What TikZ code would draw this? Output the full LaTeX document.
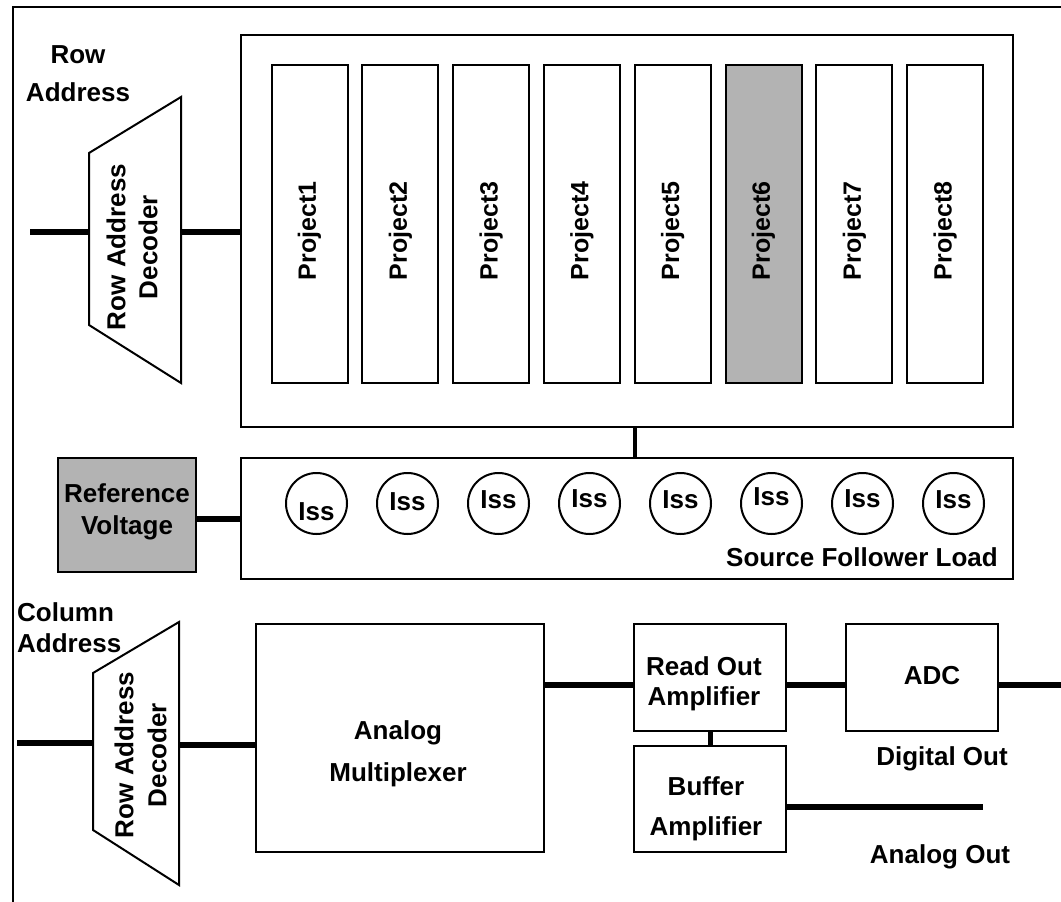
\documentclass[tikz,border=0pt]{standalone}
\usepackage{fontspec}
\setmainfont{Liberation Sans}
\definecolor{boxgray}{RGB}{179,179,179}
\begin{document}
\begin{tikzpicture}[x=1pt,y=-1pt,
  blk/.style={draw=black,line width=2pt,inner sep=0pt},
  wire/.style={line width=6pt},
  midwire/.style={line width=4.5pt},
  lbl/.style={font=\bfseries\fontsize{26}{32}\selectfont,align=center,inner sep=0pt},
  plbl/.style={font=\bfseries\fontsize{25}{30}\selectfont,inner sep=0pt,rotate=90},
  circ/.style={draw=black,line width=2pt,circle,minimum size=61pt,inner sep=0pt}
]
\useasboundingbox (0,0) rectangle (1061,902);
% outer frame (cropped)
\draw[line width=2.5pt] (13,902) -- (13,7) -- (1061,7);

% top labels
\node[lbl,font=\bfseries\fontsize{26}{38}\selectfont] (rowaddr) at (78,74) {Row\\Address};

% top decoder
\draw[blk] (89,153) -- (181,97) -- (181,383) -- (89,325) -- cycle;
\node[lbl,rotate=90] (dec1) at (132,247) {Row Address\\Decoder};
\coordinate (d1w) at (89,232);
\coordinate (d1e) at (181,232);
\coordinate (in1) at (30,232);

% pixel array
\node[blk,minimum width=772pt,minimum height=392pt] (array) at (627,231) {};
\foreach \i in {1,...,8}{
  \pgfmathsetmacro{\cx}{309.5+90.8*(\i-1)}
  \ifnum\i=6
    \node[blk,fill=boxgray,minimum width=76pt,minimum height=318pt] (p\i) at (\cx,224) {};
  \else
    \node[blk,minimum width=76pt,minimum height=318pt] (p\i) at (\cx,224) {};
  \fi
  \node[plbl] (pl\i) at (\cx,231) {Project\i};
}

% source follower load
\node[blk,minimum width=772pt,minimum height=121pt] (sf) at (627,518.5) {};
\foreach \i/\dy in {1/8,2/-2,3/-3.5,4/-5,5/-3.5,6/-7,7/-5,8/-3.5}{
  \pgfmathsetmacro{\cx}{316.5+91*(\i-1)}
  \node[circ] (c\i) at (\cx,503.5) {};
  \node[lbl] (ct\i) at (\cx,503.5+\dy) {Iss};
}
\node[lbl,anchor=east] (sfl) at (998,557) {Source Follower Load};

% reference voltage
\node[blk,fill=boxgray,minimum width=138pt,minimum height=114pt] (rv) at (127,515) {};
\node[lbl] (rvt) at (127,512) {Reference\\Voltage};
\coordinate (rvo) at (196,519);

% column address
\node[lbl,align=left,anchor=west,font=\bfseries\fontsize{26}{31}\selectfont] (coladdr) at (17,627.5) {Column\\Address};

% bottom decoder
\draw[blk] (93,673) -- (179,622) -- (179,885) -- (93,830) -- cycle;
\node[lbl,rotate=90,font=\bfseries\fontsize{26}{33}\selectfont] (dec2) at (140.5,755) {Row Address\\Decoder};
\coordinate (in2) at (17,743);
\coordinate (d2w) at (93,743);
\coordinate (d2e) at (179,745);

% analog multiplexer
\node[blk,minimum width=288pt,minimum height=228pt] (mux) at (400,738) {};
\node[lbl,font=\bfseries\fontsize{26}{42}\selectfont] (muxt) at (398,754) {Analog\\Multiplexer};

% read out amplifier
\node[blk,minimum width=152pt,minimum height=107pt] (roa) at (710,677.5) {};
\node[lbl,font=\bfseries\fontsize{26}{30}\selectfont] (roat) at (704,684) {Read Out\\Amplifier};

% buffer amplifier
\node[blk,minimum width=152pt,minimum height=106pt] (buf) at (710,799) {};
\node[lbl,font=\bfseries\fontsize{26}{40}\selectfont] (buft) at (706,809) {Buffer\\Amplifier};

% ADC
\node[blk,minimum width=152pt,minimum height=107pt] (adc) at (922,677.5) {};
\node[lbl] (adct) at (932,676) {ADC};

\node[lbl] (dout) at (942,759) {Digital Out};
\node[lbl] (aout) at (940,857) {Analog Out};

\coordinate (mo) at (544,685);
\coordinate (ro) at (786,685);
\coordinate (ao) at (998,685);
\coordinate (aend) at (1061,685);
\coordinate (bo) at (786,807);
\coordinate (bend) at (983,807);

% connectors
\draw[wire] (in1) -- (d1w);
\draw[wire] (d1e) -- (d1e -| array.west);
\draw[midwire] ([xshift=8pt]array.south) -- ([xshift=8pt]sf.north);
\draw[wire] (rvo) -- (rvo -| sf.west);
\draw[wire] (in2) -- (d2w);
\draw[wire] (d2e) -- (d2e -| mux.west);
\draw[wire] (mo) -- (mo -| roa.west);
\draw[wire] (ro) -- (ro -| adc.west);
\draw[wire] (ao) -- (aend);
\draw[line width=5pt] (roa.south) -- (buf.north);
\draw[wire] (bo) -- (bend);
\end{tikzpicture}
\end{document}
